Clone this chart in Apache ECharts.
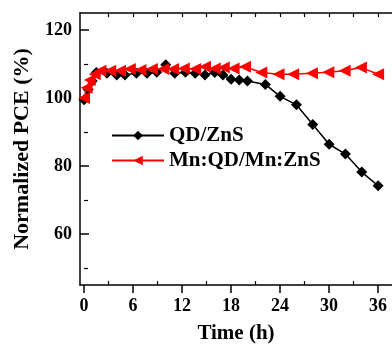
<!DOCTYPE html>
<html><head><meta charset="utf-8">
<script src="https://cdn.jsdelivr.net/npm/echarts@6/dist/echarts.min.js"></script>
<style>html,body{margin:0;padding:0;background:#fff}#c{width:392px;height:349px}</style>
</head><body><div id="c"></div>
<script>
var qdTime = [0, 0.5, 1, 1.5, 2.8, 4.0, 5.0, 6.4, 7.7, 8.9, 10, 11.1, 12.4, 13.6, 14.8, 16, 17, 18, 19, 20, 22.2, 24, 26, 28, 30, 32, 34, 36];
var qdPCE  = [99.5, 102.5, 105, 107.5, 107.3, 106.8, 106.8, 107.3, 107.3, 107.6, 109.8, 107.3, 107.6, 107.3, 106.8, 107.5, 106.8, 105.5, 105.3, 105.0, 104, 100.5, 98, 92.2, 86.4, 83.5, 78.2, 74.2];
var mnTime = [0, 0.3, 0.7, 1.3, 2, 3.2, 4.4, 5.6, 6.9, 8.3, 9.7, 10.9, 12.2, 13.6, 14.8, 16, 17.1, 18.3, 19.7, 21.7, 23.8, 25.6, 27.9, 29.9, 31.9, 33.9, 36];
var mnPCE  = [100, 103, 105.3, 107, 108, 108, 108, 108.5, 108.2, 108.5, 108.5, 108.5, 108.7, 108.5, 109.2, 108.7, 109, 108.7, 109.2, 107.5, 107, 107, 107.3, 107.6, 108, 109, 107];
var xTicks = [0, 6, 12, 18, 24, 30, 36];
var xMinor = [3, 9, 15, 21, 27, 33];
var xTop = [3, 6, 9, 12, 15, 18, 21, 24, 27, 30, 33, 36];
var yTicks = [60, 80, 100, 120];
var yMinor = [50, 70, 90, 110];
var names = ['QD/ZnS', 'Mn:QD/Mn:ZnS'];

function pairs(a, b) { return a.map(function (v, i) { return [v, b[i]]; }); }
var FONT = 'Liberation Serif';
var chart = echarts.init(document.getElementById('c'));
var blank = {show: false};
chart.setOption({
  animation: false,
  grid: {left: 80, top: 13, right: 0, bottom: 61},
  xAxis: [
    {type: 'value', min: -0.5, max: 37.7, position: 'bottom',
     axisLine: {show: true, onZero: false, lineStyle: {color: '#000', width: 1.5}},
     axisTick: {show: true, inside: false, length: 8, customValues: xTicks, lineStyle: {color: '#000', width: 1.5}},
     axisLabel: {show: true, customValues: xTicks, color: '#000', fontFamily: FONT, fontWeight: 'bold', fontSize: 18, margin: 12},
     splitLine: blank,
     name: 'Time (h)', nameLocation: 'middle', nameGap: 38,
     nameTextStyle: {color: '#000', fontFamily: FONT, fontWeight: 'bold', fontSize: 21}},
    {type: 'value', min: -0.5, max: 37.7, position: 'bottom',
     axisLine: blank,
     axisTick: {show: true, inside: true, length: 4, customValues: xMinor, lineStyle: {color: '#000', width: 1.2}},
     axisLabel: blank, splitLine: blank},
    {type: 'value', min: -0.5, max: 37.7, position: 'top',
     axisLine: {show: true, onZero: false, lineStyle: {color: '#000', width: 1.5}},
     axisTick: {show: true, inside: true, length: 4, customValues: xTop, lineStyle: {color: '#000', width: 1.2}},
     axisLabel: blank, splitLine: blank}
  ],
  yAxis: [
    {type: 'value', min: 45, max: 125, position: 'left',
     axisLine: {show: true, onZero: false, lineStyle: {color: '#000', width: 1.5}},
     axisTick: {show: true, inside: true, length: 9, customValues: yTicks, lineStyle: {color: '#000', width: 1.5}},
     axisLabel: {show: true, customValues: yTicks, color: '#000', fontFamily: FONT, fontWeight: 'bold', fontSize: 18, margin: 8},
     splitLine: blank,
     name: 'Normalized PCE (%)', nameLocation: 'middle', nameGap: 47, nameRotate: 90,
     nameTextStyle: {color: '#000', fontFamily: FONT, fontWeight: 'bold', fontSize: 22}},
    {type: 'value', min: 45, max: 125, position: 'left',
     axisLine: blank,
     axisTick: {show: true, inside: true, length: 4, customValues: yMinor, lineStyle: {color: '#000', width: 1.2}},
     axisLabel: blank, splitLine: blank}
  ],
  legend: {
    orient: 'vertical', left: 106, top: 120, itemWidth: 52, itemHeight: 12, itemGap: 4,
    textStyle: {color: '#000', fontFamily: FONT, fontWeight: 'bold', fontSize: 21},
    data: names
  },
  series: [
    {name: names[0], type: 'line', xAxisIndex: 0, yAxisIndex: 0, data: pairs(qdTime, qdPCE),
     symbol: 'diamond', symbolSize: 11, showAllSymbol: true,
     lineStyle: {color: '#000', width: 1.5}, itemStyle: {color: '#000'}, z: 3},
    {name: names[1], type: 'line', xAxisIndex: 0, yAxisIndex: 0, data: pairs(mnTime, mnPCE),
     symbol: 'triangle', symbolRotate: 90, symbolSize: 12, showAllSymbol: true,
     lineStyle: {color: '#ff0000', width: 1.5}, itemStyle: {color: '#ff0000'}, z: 4}
  ]
});
</script></body></html>
